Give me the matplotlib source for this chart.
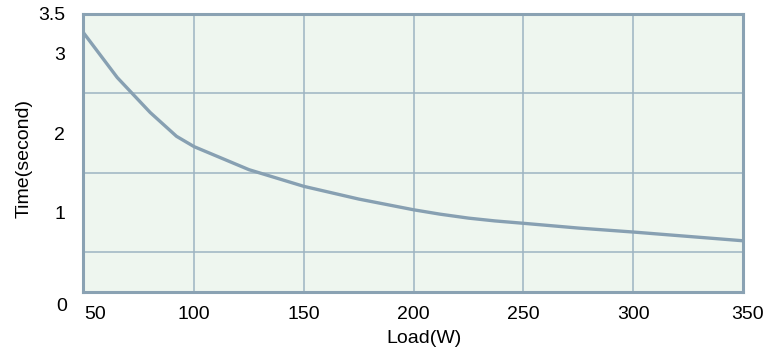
import numpy as np
import matplotlib.pyplot as plt
from matplotlib.transforms import ScaledTranslation

# valeurs
load = [50, 65, 80, 92, 100, 125, 150, 175, 200, 212, 225, 237, 250, 275, 300, 325, 350]
time_s = [3.25, 2.70, 2.26, 1.96, 1.83, 1.54, 1.33, 1.17, 1.035, 0.98, 0.93, 0.895, 0.865, 0.805, 0.755, 0.70, 0.645]

x_ticks = [50, 100, 150, 200, 250, 300, 350]
y_grid = [0.5, 1, 1.5, 2, 2.5, 3]
y_ticks = [1, 2, 3, 3.5]

plt.rcParams['font.family'] = ['Liberation Sans', 'DejaVu Sans']
fs = 14

fig = plt.figure(figsize=(7.8, 3.58), dpi=100)
ax = fig.add_axes([83 / 780, 1 - 292 / 358, (743 - 83) / 780, (292 - 14) / 358])
ax.set_facecolor('#eef6ef')

ax.plot(load, time_s, color='#87a0b2', lw=2.4, solid_joinstyle='round', zorder=3)

ax.set_xlim(49.4, 350)
ax.set_ylim(0, 3.5)

ax.set_xticks(x_ticks)
ax.set_yticks(y_grid, minor=True)
ax.set_yticks(y_ticks)
ax.set_xticklabels([str(v) for v in x_ticks], fontsize=fs)
ax.set_yticklabels(['1', '2', '3', '3.5'], fontsize=fs)
ax.tick_params(axis='both', which='both', length=0)
ax.tick_params(axis='x', pad=10)
ax.tick_params(axis='y', pad=13)

ax.grid(True, axis='x', color='#9db4c2', lw=1.1)
ax.grid(True, axis='y', which='minor', color='#9db4c2', lw=1.1)
ax.set_axisbelow(True)

for s in ax.spines.values():
    s.set_color('#8aa2b3')
    s.set_linewidth(2.2)

# décalage des étiquettes extrêmes
labels = ax.get_xticklabels()
labels[0].set_horizontalalignment('left')
labels[-1].set_transform(labels[-1].get_transform() + ScaledTranslation(5 / 100, 0, fig.dpi_scale_trans))

ax.annotate('0', xy=(0, 0), xycoords='axes fraction', xytext=(-16, -14.5),
            textcoords='offset pixels', ha='right', va='center', fontsize=fs)

ax.set_xlabel('Load(W)', fontsize=fs)
ax.xaxis.set_label_coords((424 - 83) / 660, -(330 - 292) / 278)
ax.set_ylabel('Time(second)', fontsize=fs)
ax.yaxis.set_label_coords(-(83 - 33) / 660, (292 - 158) / 278)

fig.savefig('out.png', dpi=100)
